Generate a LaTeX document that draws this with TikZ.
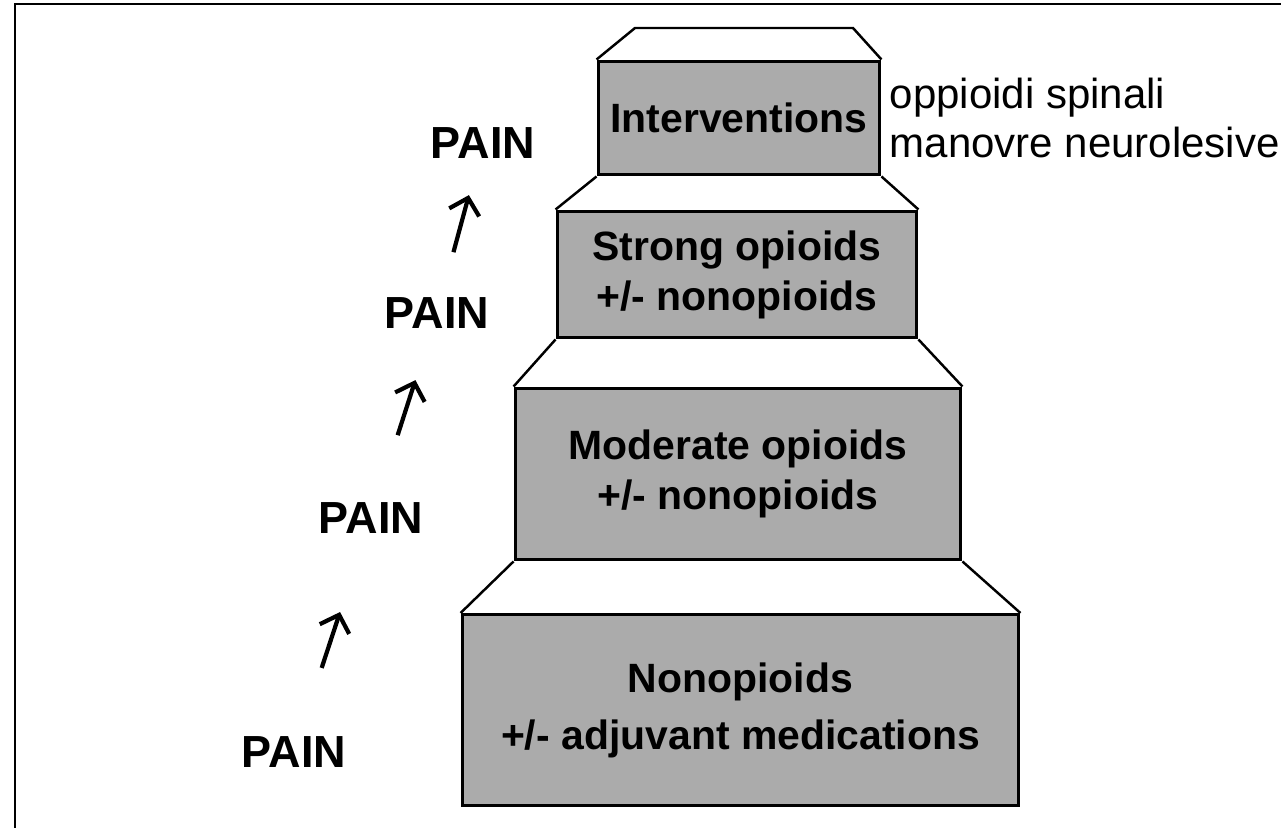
\documentclass[tikz,border=0pt]{standalone}
\usepackage{fontspec}
\setmainfont{Liberation Sans}
\usepackage{tikz}
\usetikzlibrary{arrows.meta}
\usetikzlibrary{positioning}
\tikzset{>={Straight Barb[length=0.3cm,width=0.62cm]}}
\definecolor{step gray}{HTML}{ABABAB}
\tikzset{
    stepbox/.style={draw, line width=1.7pt, fill=step gray, align=center, inner sep=0pt,
        font=\fontsize{23.3}{28.5}\selectfont\bfseries},
    painlabel/.style={inner sep=0pt, font=\fontsize{25.6}{30}\selectfont\bfseries},
    notelabel/.style={inner sep=0pt, align=left, font=\fontsize{23.9}{28.4}\selectfont},
}

\begin{document}
\begin{tikzpicture}[x=0.02cm, y=-0.02cm]
        \useasboundingbox[fill=white] (0,0) rectangle (1281,828);
        \draw[line width=1.3pt] (15,828) -- (15,4) -- (1281,4);
        % steps of the ladder
        \node[stepbox, minimum width=5.64cm, minimum height=2.28cm] (interv) at (739,118) {Interventions};
        \node[stepbox, minimum width=7.2cm, minimum height=2.54cm] (strong) at (737,274.5) {Strong opioids\\+/- nonopioids};
        \node[stepbox, minimum width=8.92cm, minimum height=3.44cm] (moderate) at (738,474) {Moderate opioids\\+/- nonopioids};
        \node[stepbox, minimum width=11.14cm, minimum height=3.82cm] (nonop) at (740.5,710) {Nonopioids\\[4pt]+/- adjuvant medications};
        \node[notelabel, right=0.16cm of interv] (notes) {oppioidi spinali\\manovre neurolesive};
        % slanted sides
        \coordinate (top west) at (635,28);
        \coordinate (top east) at (853,28);
        \draw[line width=1.4pt] (interv.north west) -- (top west) -- (top east) -- (interv.north east);
        \foreach \a/\b in {interv/strong, strong/moderate, moderate/nonop} {
            \draw[line width=1.4pt] (\a.south west) -- (\b.north west);
            \draw[line width=1.4pt] (\a.south east) -- (\b.north east);
        }
        % pain labels
        \foreach \n/\x/\y in {1/483/143, 2/437/313, 3/371/518, 4/294/752} {
            \node[painlabel] (pain\n) at (\x,\y) {PAIN};
        }
        \foreach \a/\b/\s/\e in {2/1/1.26cm/1.08cm, 3/2/1.74cm/1.41cm, 4/3/1.77cm/1.98cm} {
            \draw[->, line width=2.4pt, shorten <=\s, shorten >=\e] (pain\a.center) -- (pain\b.center);
        }
    \end{tikzpicture}
\end{document}
